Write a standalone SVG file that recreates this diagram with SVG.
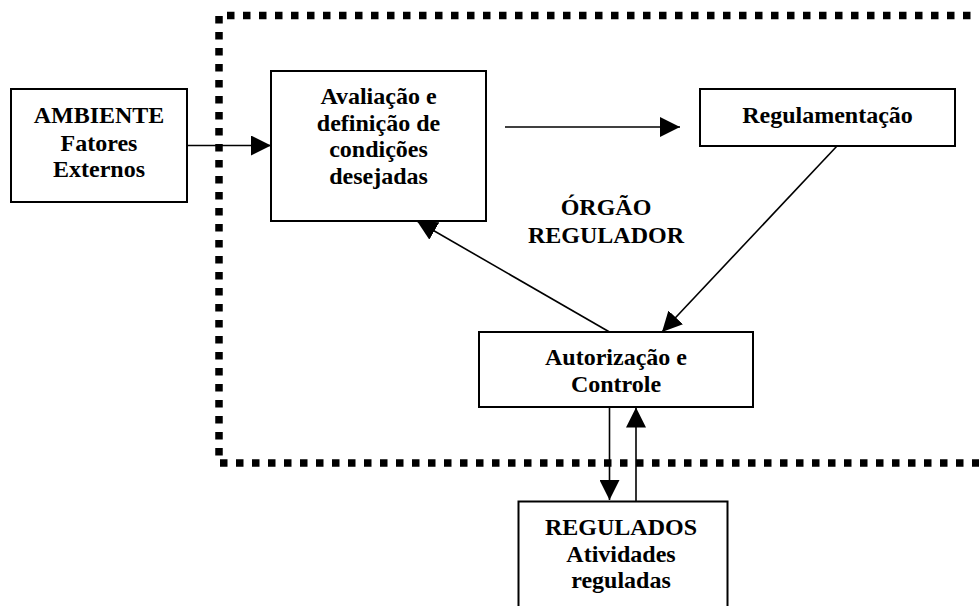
<svg xmlns="http://www.w3.org/2000/svg" width="979" height="606" viewBox="0 0 979 606">
  <style>
    .box { fill: #ffffff; stroke: #000000; stroke-width: 2; }
    .lbl { font-family: "Liberation Serif", "Times New Roman", serif; font-weight: bold; font-size: 24px; fill: #000000; text-anchor: middle; }
    .link { fill: none; stroke: #000000; stroke-width: 1.6; }
    .border { fill: none; stroke: #000000; stroke-width: 7.5; stroke-dasharray: 7.5 8.5; }
  </style>
  <defs>
    <marker id="arrow" markerUnits="userSpaceOnUse" markerWidth="20" markerHeight="20" refX="20" refY="10" orient="auto">
      <path d="M0,0 L20,10 L0,20 Z" fill="#000000"/>
    </marker>
  </defs>
  <rect width="979" height="606" fill="#ffffff"/>

  <!-- dotted boundary of the regulatory body -->
  <g id="boundary">
    <line class="border" x1="227" y1="15.5" x2="990" y2="15.5"/>
    <line class="border" x1="219" y1="16" x2="219" y2="456"/>
    <line class="border" x1="220" y1="463" x2="990" y2="463"/>
  </g>

  <g id="ambiente">
    <rect class="box" x="11" y="89" width="176" height="113"/>
    <text class="lbl" x="99" y="123">AMBIENTE</text>
    <text class="lbl" x="99" y="150.5">Fatores</text>
    <text class="lbl" x="99" y="177">Externos</text>
  </g>

  <g id="avaliacao">
    <rect class="box" x="271" y="71" width="215" height="150"/>
    <text class="lbl" x="378.5" y="104">Avaliação e</text>
    <text class="lbl" x="378.5" y="130.5">definição de</text>
    <text class="lbl" x="378.5" y="157">condições</text>
    <text class="lbl" x="378.5" y="184">desejadas</text>
  </g>

  <g id="regulamentacao">
    <rect class="box" x="700" y="89" width="255" height="57"/>
    <text class="lbl" x="827.5" y="123">Regulamentação</text>
  </g>

  <g id="orgao-regulador">
    <text class="lbl" x="606" y="215">ÓRGÃO</text>
    <text class="lbl" x="606" y="243">REGULADOR</text>
  </g>

  <g id="autorizacao">
    <rect class="box" x="479" y="332" width="274" height="75"/>
    <text class="lbl" x="616" y="365">Autorização e</text>
    <text class="lbl" x="616" y="391.7">Controle</text>
  </g>

  <g id="regulados">
    <rect class="box" x="518.5" y="501.5" width="209" height="120"/>
    <text class="lbl" x="621" y="535">REGULADOS</text>
    <text class="lbl" x="621" y="561.7">Atividades</text>
    <text class="lbl" x="621" y="588.3">reguladas</text>
  </g>

  <g id="connectors">
    <line class="link" x1="187" y1="145.5" x2="271" y2="145.5" marker-end="url(#arrow)"/>
    <line class="link" x1="505" y1="127" x2="680" y2="127" marker-end="url(#arrow)"/>
    <line class="link" x1="837" y1="146" x2="662" y2="332" marker-end="url(#arrow)"/>
    <line class="link" x1="609.5" y1="332" x2="417" y2="221" marker-end="url(#arrow)"/>
    <line class="link" x1="609.5" y1="407" x2="609.5" y2="500" marker-end="url(#arrow)"/>
    <line class="link" x1="636" y1="501" x2="636" y2="407.5" marker-end="url(#arrow)"/>
  </g>
</svg>
